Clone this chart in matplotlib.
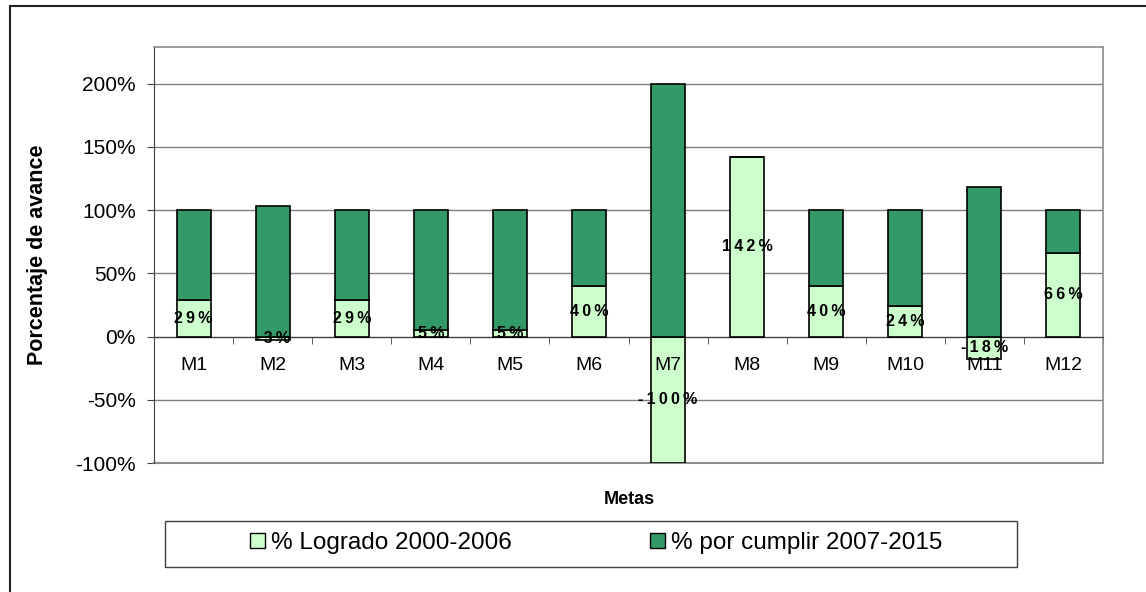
import matplotlib.pyplot as plt
import matplotlib.patches as mpatches
from matplotlib.lines import Line2D
import numpy as np

plt.rcParams['font.family'] = ['Liberation Sans', 'DejaVu Sans']

metas = ['M1', 'M2', 'M3', 'M4', 'M5', 'M6', 'M7', 'M8', 'M9', 'M10', 'M11', 'M12']
logrado = [29, -3, 29, 5, 5, 40, -100, 142, 40, 24, -18, 66]
por_cumplir = [71, 103, 71, 95, 95, 60, 200, 0, 60, 76, 118, 34]
y_ticks = [-100, -50, 0, 50, 100, 150, 200]

light = '#CCFFCC'
dark = '#339966'

fig = plt.figure(figsize=(11.46, 5.92), dpi=100)
ax = fig.add_axes([0.1344, 0.2179, 0.8281, 0.7027])

x = np.arange(1, len(metas) + 1)
logrado = np.array(logrado)
por_cumplir = np.array(por_cumplir)
# stacked like Excel: negatives go below zero on their own
base_dark = np.where(logrado > 0, logrado, 0)

ax.bar(x, logrado, width=0.43, color=light, edgecolor='black', linewidth=1.2,
       label='% Logrado 2000-2006', zorder=3)
ax.bar(x, por_cumplir, width=0.43, bottom=base_dark, color=dark,
       edgecolor='black', linewidth=1.2, label='% por cumplir 2007-2015', zorder=3)

# data labels, spaced out like the Excel ones
for xi, v in zip(x, logrado):
    ax.text(xi, v / 2, '\u2009'.join('%d%%' % v), ha='center', va='center',
            fontsize=11.5, fontweight='bold', zorder=6)

# category labels sit under the zero line, on top of the bars
for xi, name in zip(x, metas):
    ax.annotate(name, (xi, 0), xytext=(0, -21), textcoords='offset points',
                ha='center', va='center', fontsize=14, zorder=6)

ax.set_xlim(0.5, 12.5)
ax.set_ylim(-100, 229)
ax.set_yticks(y_ticks)
ax.set_yticklabels(['%d%%' % t for t in y_ticks], fontsize=15)
ax.yaxis.grid(True, color='#7f7f7f', linewidth=1)
ax.set_axisbelow(True)
ax.axhline(-100, color='#8c8c8c', linewidth=1.5, clip_on=False, zorder=1)

ax.spines['bottom'].set_position(('data', 0))
ax.spines['bottom'].set_color('#404040')
ax.spines['left'].set_color('#404040')
ax.spines['top'].set_color('#8c8c8c')
ax.spines['right'].set_color('#8c8c8c')
ax.spines['top'].set_linewidth(1.2)
ax.spines['right'].set_linewidth(1.2)

ax.set_xticks(x)
ax.set_xticklabels([])
ax.set_xticks(np.arange(0.5, 13, 1), minor=True)
ax.tick_params(axis='x', which='major', length=0)
ax.tick_params(axis='x', which='minor', length=5, direction='out', color='#404040')
ax.tick_params(axis='y', length=5, direction='out', pad=8, color='#404040')

ax.set_ylabel('Porcentaje de avance', fontsize=15.5, fontweight='bold')
ax.yaxis.set_label_coords(-0.112, 0.5)
fig.text(0.549, 1 - 500 / 592, 'Metas', ha='center', va='center', fontsize=13,
         fontweight='bold')

# legend box
fig.patches.append(mpatches.Rectangle((165 / 1146, 1 - 567 / 592), 852 / 1146, 46 / 592,
                                      transform=fig.transFigure, facecolor='white',
                                      edgecolor='#404040', linewidth=1))
leg = fig.legend(loc='center', bbox_to_anchor=(596 / 1146, 1 - 543 / 592), ncol=2,
                 frameon=False, fontsize=17.5, handlelength=0.6, handleheight=0.6,
                 handletextpad=0.25, columnspacing=5.7)
for h in leg.legend_handles:
    h.set_linewidth(1)

# outer chart border (top and left visible)
fig.add_artist(Line2D([10 / 1146, 1.0], [1 - 6 / 592, 1 - 6 / 592], color='#202020',
                      linewidth=1.5, transform=fig.transFigure))
fig.add_artist(Line2D([10 / 1146, 10 / 1146], [0, 1 - 6 / 592], color='#202020',
                      linewidth=1.5, transform=fig.transFigure))

fig.savefig('out.png', dpi=100)
